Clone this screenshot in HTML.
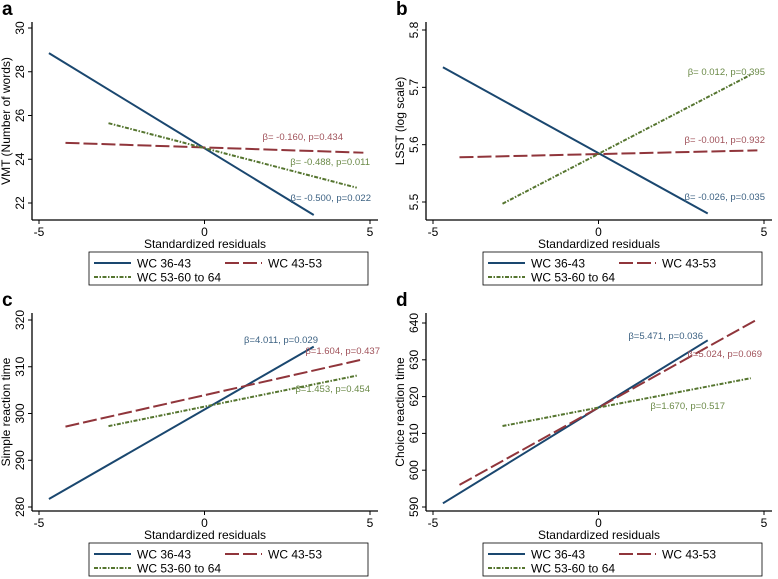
<!DOCTYPE html>
<html><head><meta charset="utf-8">
<style>
body{margin:0;background:#fff;}
svg{display:block;font-family:"Liberation Sans",Arial,sans-serif;}
</style></head>
<body>
<svg id="fig" width="778" height="579" viewBox="0 0 778 579" xmlns="http://www.w3.org/2000/svg"></svg>
<script>
// ----- data -----
const panelLetters = ["a","b","c","d"];
const yTitles = ["VMT (Number of words)","LSST (log scale)","Simple reaction time","Choice reaction time"];
const yTicks = [[22,24,26,28,30],[5.5,5.6,5.7,5.8],[280,290,300,310,320],[590,600,610,620,630,640]];
const xTicks = [-5,0,5];
const seriesNames = ["WC 36-43","WC 43-53","WC 53-60 to 64"];
const xStart = [-4.7,-4.2,-2.9];
const xEnd = [3.3,4.8,4.6];
const yStartA = [28.85,24.75,25.65], yEndA = [21.45,24.3,22.7];
const yStartB = [5.735,5.578,5.497], yEndB = [5.48,5.59,5.722];
const yStartC = [281.7,297.2,297.3], yEndC = [314.3,311.6,308.1];
const yStartD = [591,596,612], yEndD = [635.3,641,625];
const labelsA = ["β= -0.500, p=0.022","β= -0.160, p=0.434","β= -0.488, p=0.011"];
const labelsB = ["β= -0.026, p=0.035","β= -0.001, p=0.932","β= 0.012, p=0.395"];
const labelsC = ["β=4.011, p=0.029","β=1.604, p=0.437","β=1.453, p=0.454"];
const labelsD = ["β=5.471, p=0.036","β=5.024, p=0.069","β=1.670, p=0.517"];

const yStarts=[yStartA,yStartB,yStartC,yStartD], yEnds=[yEndA,yEndB,yEndC,yEndD];
const labels=[labelsA,labelsB,labelsC,labelsD];
// layout
const offs=[[0,0],[394,0],[0,291],[394,291]];
const yPix=[[203,28],[202,30],[216,29],[216,32]];
const labPos=[[[371,201],[343,140],[370,165]],[[371,200],[371,143],[371,75]],[[318,52],[380,63],[370,101]],[[309,48],[368,66],[331,118]]];
const colors=["#1a476f","#90353b","#55752f"];
const labColors=["#3d6283","#a0525a","#6b8a48"];
const dashes=["none","14 4","4 1.5 1.5 1.5"];
const NS="http://www.w3.org/2000/svg";
const svg=document.getElementById('fig');
function mk(tag,attrs,parent,text){const e=document.createElementNS(NS,tag);for(const k in attrs)e.setAttribute(k,attrs[k]);if(text!==undefined)e.textContent=text;parent.appendChild(e);return e;}

for(let p=0;p<4;p++){
  const [ox,oy]=offs[p];
  const g=mk('g',{transform:`translate(${ox},${oy})`},svg);
  
  
  const t=yTicks[p], lo=t[0], hi=t[t.length-1];
  const X=v=>39+(v+5)*33.1;
  const Y=v=>yPix[p][0]+(v-lo)/(hi-lo)*(yPix[p][1]-yPix[p][0]);
  const L=mk('text',{x:2,y:15,'font-size':19,'font-weight':'bold'},g,panelLetters[p]);
  
  
  const ya=mk('line',{x1:32,y1:22,x2:32,y2:220,stroke:'#000','stroke-width':1.3},g);
  
  
  const xa=mk('line',{x1:32,y1:220,x2:378,y2:220,stroke:'#000','stroke-width':1.3},g);
  
  
  t.forEach(v=>{
    const y=Y(v);
    mk('line',{x1:28,y1:y,x2:32,y2:y,stroke:'#000'},g);
    const tx=mk('text',{x:0,y:0,'font-size':12,'text-anchor':'middle',transform:`translate(24,${y}) rotate(-90)`},g,String(v));
    
    
  });
  xTicks.forEach(v=>{
    const x=X(v);
    mk('line',{x1:x,y1:220,x2:x,y2:224,stroke:'#000'},g);
    const tx=mk('text',{x:x,y:236,'font-size':12,'text-anchor':'middle'},g,String(v));
    
    
  });
  const xt=mk('text',{x:205,y:248,'font-size':12,'text-anchor':'middle'},g,'Standardized residuals');
  
  
  const yt=mk('text',{x:0,y:0,'font-size':12,'text-anchor':'middle',transform:`translate(10,${(22+220)/2}) rotate(-90)`},g,yTitles[p]);
  
  
  for(let s=0;s<3;s++){
    const ln=mk('line',{x1:X(xStart[s]),y1:Y(yStarts[p][s]),x2:X(xEnd[s]),y2:Y(yEnds[p][s]),stroke:colors[s],'stroke-width':2,'stroke-dasharray':dashes[s]},g);
    
    
    const lb=mk('text',{x:labPos[p][s][0],y:labPos[p][s][1],'font-size':9.5,'text-anchor':'end',fill:labColors[s]},g,labels[p][s]);
    
    
  }
  const lg=mk('g',{},g);
  
  
  mk('rect',{x:89,y:252,width:279,height:33,fill:'#fff',stroke:'#000','stroke-width':0.8},lg);
  const lpos=[[94,263],[225,263],[94,277]];
  for(let s=0;s<3;s++){
    const e=mk('g',{},lg);
    
    
    const [lx,ly]=lpos[s];
    mk('line',{x1:lx,y1:ly,x2:lx+37,y2:ly,stroke:colors[s],'stroke-width':2,'stroke-dasharray':dashes[s]},e);
    mk('text',{x:lx+43,y:ly+4.5,'font-size':12},e,seriesNames[s]);
  }
}
</script>
</body></html>
